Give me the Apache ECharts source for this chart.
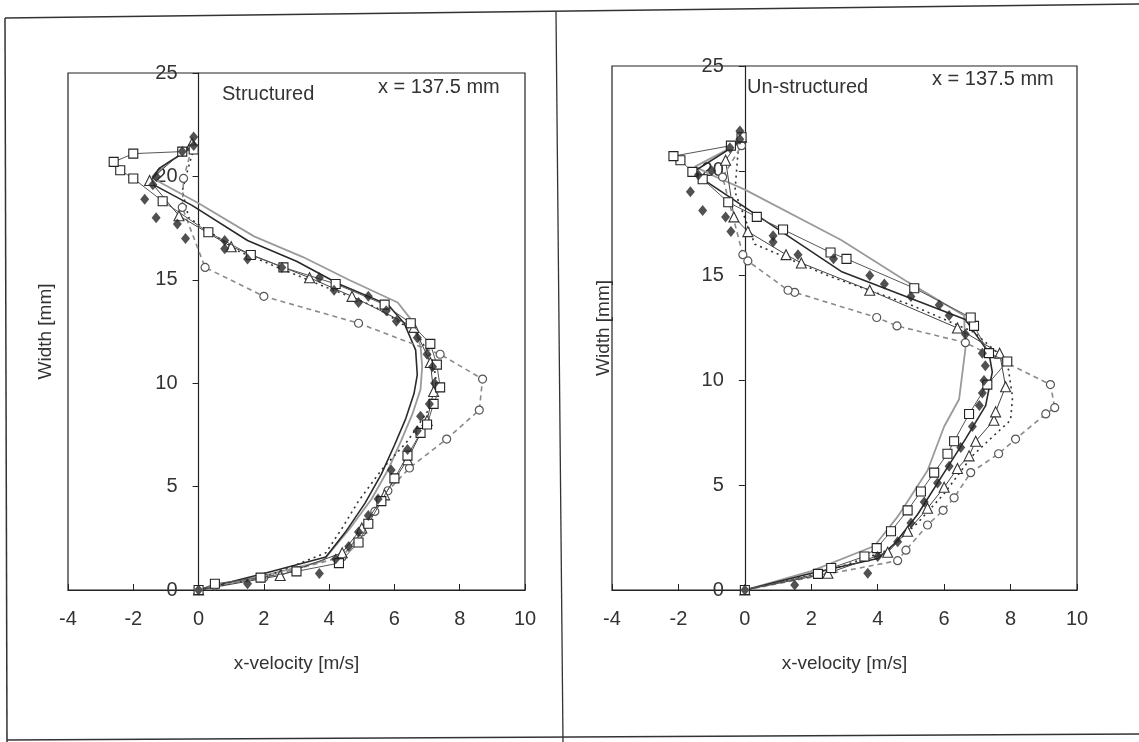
<!DOCTYPE html>
<html>
<head>
<meta charset="utf-8">
<script src="https://cdn.jsdelivr.net/npm/echarts@6/dist/echarts.min.js"></script>
<style>
html,body{margin:0;padding:0;background:#fff;}
#chart{width:1139px;height:742px;}
</style>
</head>
<body>
<div id="chart"></div>
<script>
// ---------- data: [x-velocity (m/s), width (mm)] ----------
var xTicks = [-4, -2, 0, 2, 4, 6, 8, 10];
var yTicks = [0, 5, 10, 15, 20, 25];
var panelTitles = ['Structured', 'Un-structured'];
var positionLabel = 'x = 137.5 mm';
var xName = 'x-velocity [m/s]';
var yName = 'Width [mm]';

// Left panel (Structured)
var L_solidDark = [[0,0],[2.0,0.8],[3.9,1.6],[4.5,2.8],[5.1,4.2],[5.6,5.6],[6.0,7.0],[6.35,8.3],[6.6,9.5],[6.7,10.4],[6.65,11.6],[6.3,12.9],[5.8,13.8],[4.3,14.8],[3.0,15.9],[1.5,16.9],[-0.2,18.6],[-1.5,19.7],[-1.2,20.4],[-0.5,21.1],[-0.1,21.6]];
var L_solidGray = [[0,0],[2.0,0.7],[3.8,1.4],[4.6,2.9],[5.3,4.4],[5.8,5.8],[6.2,7.2],[6.55,8.5],[6.8,9.7],[6.85,10.8],[6.8,11.8],[6.5,13.1],[6.1,13.9],[4.6,15.0],[3.2,16.1],[1.7,17.1],[0,18.7],[-1.4,19.9],[-1.0,20.6],[-0.3,21.3],[-0.1,21.6]];
var L_squares = [[0,0],[0.5,0.3],[1.9,0.6],[3.0,0.9],[4.3,1.3],[4.9,2.3],[5.2,3.2],[5.6,4.3],[6.0,5.4],[6.4,6.5],[6.8,7.6],[7.0,8.0],[7.2,9.0],[7.4,9.8],[7.3,10.9],[7.1,11.9],[6.5,12.9],[5.7,13.8],[4.2,14.8],[2.6,15.6],[1.6,16.2],[0.3,17.3],[-1.1,18.8],[-2.0,19.9],[-2.4,20.3],[-2.6,20.7],[-2.0,21.1],[-0.5,21.2],[-0.15,21.3]];
var L_diamonds = [[0,0],[1.5,0.3],[3.7,0.8],[4.2,1.5],[4.6,2.1],[4.9,2.8],[5.2,3.6],[5.5,4.4],[5.9,5.8],[6.4,6.8],[6.7,7.7],[6.8,8.4],[7.07,9.0],[7.23,10.0],[7.17,10.8],[7.0,11.4],[6.7,12.2],[6.06,13.0],[5.75,13.5],[5.2,14.2],[4.9,13.9],[4.15,14.5],[3.7,15.1],[2.55,15.6],[1.5,16.0],[0.8,16.5],[0.8,16.9],[-0.4,17.0],[-0.65,17.7],[-1.3,18.0],[-1.65,18.9],[-1.4,19.6],[-1.3,20.0],[-0.5,21.2],[-0.15,21.5],[-0.15,21.9]];
var L_triangles = [[0,0],[2.5,0.7],[4.4,1.8],[5.0,3.0],[5.7,4.6],[6.4,6.3],[7.0,8.2],[7.2,9.6],[7.1,11.0],[6.6,12.7],[4.7,14.2],[3.4,15.1],[1.0,16.6],[-0.6,18.1],[-1.5,19.8],[-0.2,21.6]];
var L_circles = [[0,0],[0.5,0.2],[2.0,0.6],[4.4,1.6],[5.0,2.8],[5.4,3.8],[5.8,4.8],[6.46,5.9],[7.6,7.3],[8.6,8.7],[8.7,10.2],[7.4,11.4],[4.9,12.9],[2.0,14.2],[0.2,15.6],[-0.5,18.5],[-0.46,19.9],[-0.2,21.4]];
var L_dotted = [[0,0],[2.0,0.6],[3.9,1.8],[4.4,3.0],[4.9,4.3],[5.6,5.8],[6.4,7.2],[7.0,8.6],[7.3,9.8],[7.2,11.0],[6.7,12.4],[5.4,13.7],[3.5,14.9],[1.2,16.4],[-0.3,18.0],[-0.5,19.3],[-0.3,20.5],[-0.1,21.6]];

// Right panel (Un-structured)
var R_solidDark = [[0,0],[2.0,0.8],[4.0,1.5],[4.5,2.2],[5.2,3.6],[6.0,5.6],[6.64,7.2],[7.25,8.8],[7.45,10.4],[7.35,11.3],[6.64,12.9],[2.9,15.2],[-1.27,19.6],[-1.5,20.0],[-0.3,21.2],[-0.1,21.6]];
var R_solidGray = [[0,0],[2.0,0.9],[3.9,2.1],[4.6,3.5],[5.5,5.7],[6.0,7.8],[6.45,9.1],[6.64,11.5],[6.6,13.1],[4.9,14.7],[2.9,16.7],[0,19.1],[-1.0,19.8],[-1.5,20.2],[-0.3,21.2],[-0.1,21.6]];
var R_squares = [[0,0],[2.2,0.77],[2.6,1.05],[3.6,1.6],[3.97,2.0],[4.4,2.8],[4.9,3.8],[5.3,4.7],[5.7,5.6],[6.1,6.5],[6.3,7.1],[6.75,8.4],[7.3,9.8],[7.9,10.9],[7.35,11.3],[6.9,12.6],[6.8,13.0],[5.1,14.4],[3.06,15.8],[2.58,16.1],[1.15,17.2],[0.36,17.8],[-0.5,18.5],[-1.27,19.6],[-1.58,19.95],[-1.94,20.5],[-2.15,20.7],[-0.42,21.2],[-0.1,21.6]];
var R_diamonds = [[0,0],[1.5,0.24],[3.7,0.8],[4.0,1.6],[4.6,2.3],[5.0,3.2],[5.4,4.2],[5.8,5.1],[6.15,5.9],[6.5,6.8],[6.85,7.8],[7.06,8.8],[7.15,9.4],[7.2,10.0],[7.24,10.7],[7.15,11.3],[6.64,12.2],[6.15,13.1],[5.85,13.6],[5.0,14.0],[4.2,14.6],[3.76,15.0],[2.67,15.8],[1.6,16.0],[0.85,16.6],[0.85,16.9],[-0.42,17.1],[-0.58,17.8],[-1.27,18.1],[-1.64,19.0],[-1.4,19.8],[-1.0,20.0],[-0.45,21.1],[-0.15,21.5],[-0.15,21.9]];
var R_triangles = [[0,0],[2.5,0.8],[4.3,1.8],[4.9,2.8],[5.5,3.9],[6.0,4.9],[6.4,5.8],[6.75,6.4],[6.95,7.1],[7.5,8.1],[7.55,8.5],[7.85,9.7],[7.67,11.3],[6.4,12.5],[3.76,14.3],[1.7,15.6],[1.24,16.0],[0.09,17.1],[-0.33,17.8],[-0.58,20.5],[-0.1,21.6]];
var R_circles = [[0,0],[4.6,1.4],[4.85,1.9],[5.5,3.1],[5.97,3.8],[6.3,4.4],[6.8,5.6],[7.64,6.5],[8.15,7.2],[9.06,8.4],[9.33,8.7],[9.2,9.8],[6.64,11.8],[4.58,12.6],[3.97,13.0],[1.5,14.2],[1.3,14.3],[0.09,15.7],[-0.06,16.0],[-0.67,19.7],[-0.1,21.2]];
var R_dotted = [[0,0],[2.5,0.9],[4.3,1.9],[5.2,3.2],[6.0,4.6],[6.85,6.4],[7.45,7.3],[8.0,8.1],[8.06,9.2],[7.9,10.9],[6.9,12.3],[5.0,13.6],[2.5,15.0],[0.3,16.5],[-0.3,19.0],[-0.2,21.0]];

var panels = [
  {solidDark:L_solidDark, solidGray:L_solidGray, squares:L_squares, diamonds:L_diamonds, triangles:L_triangles, circles:L_circles, dotted:L_dotted},
  {solidDark:R_solidDark, solidGray:R_solidGray, squares:R_squares, diamonds:R_diamonds, triangles:R_triangles, circles:R_circles, dotted:R_dotted}
];

// ---------- layout ----------
var gridsPos = [
  {left:68, top:73, width:457, height:517, yNameX:45},
  {left:612, top:66, width:465, height:524, yNameX:603}
];
var FONT = '"Liberation Sans", Arial, sans-serif';
var TXT = '#333';
var LABEL_FS = 20, NAME_FS = 19, NOTE_FS = 20;
var xMin = xTicks[0], xMax = xTicks[xTicks.length - 1];

var grids = [], xAxes = [], yAxes = [], series = [];
gridsPos.forEach(function (g, i) {
  // main plotting box
  grids.push({left:g.left, top:g.top, width:g.width, height:g.height, show:true,
    borderColor:'#222', borderWidth:1.2, backgroundColor:'transparent',
    containLabel:false, outerBoundsMode:'none'});
  // axis grid whose left edge sits at x = 0 (the vertical axis line)
  var zeroX = g.left + g.width * (0 - xMin) / (xMax - xMin);
  grids.push({left:zeroX, top:g.top, width:g.left + g.width - zeroX, height:g.height, show:false,
    containLabel:false, outerBoundsMode:'none'});

  xAxes.push({type:'value', gridIndex:2*i, min:xMin, max:xMax, interval:2,
    name:xName, nameLocation:'middle', nameGap:64,
    nameTextStyle:{fontFamily:FONT, fontSize:NAME_FS, color:TXT},
    axisLine:{show:true, onZero:false, lineStyle:{color:'#222', width:1.2}},
    axisTick:{show:true, inside:true, length:6, lineStyle:{color:'#222'}},
    axisLabel:{margin:19, fontFamily:FONT, fontSize:LABEL_FS, color:TXT},
    splitLine:{show:false}});
  xAxes.push({type:'value', gridIndex:2*i+1, min:0, max:xMax, show:false});

  yAxes.push({type:'value', gridIndex:2*i, min:yTicks[0], max:yTicks[yTicks.length-1], interval:5, show:false});
  yAxes.push({type:'value', gridIndex:2*i+1, min:yTicks[0], max:yTicks[yTicks.length-1], interval:5,
    name:yName, nameLocation:'middle', nameGap:zeroX - g.yNameX - 10,
    nameTextStyle:{fontFamily:FONT, fontSize:NAME_FS, color:TXT},
    axisLine:{show:true, onZero:false, lineStyle:{color:'#222', width:1.2}},
    axisTick:{show:true, inside:false, length:6, lineStyle:{color:'#222'}},
    axisLabel:{margin:21, fontFamily:FONT, fontSize:LABEL_FS, color:TXT},
    splitLine:{show:false}});

  var p = panels[i];
  var ax = 2*i;
  series.push({type:'line', xAxisIndex:ax, yAxisIndex:ax, data:p.solidGray, showSymbol:false, symbol:'none',
    lineStyle:{color:'#9a9a9a', width:1.8}, z:2, silent:true});
  series.push({type:'line', xAxisIndex:ax, yAxisIndex:ax, data:p.solidDark, showSymbol:false, symbol:'none',
    lineStyle:{color:'#2a2a2a', width:1.6}, z:3, silent:true});
  series.push({type:'line', xAxisIndex:ax, yAxisIndex:ax, data:p.dotted, showSymbol:false, symbol:'none',
    lineStyle:{color:'#333', width:1.6, type:[2,4]}, z:3, silent:true});
  series.push({type:'line', xAxisIndex:ax, yAxisIndex:ax, data:p.circles, symbol:'circle', symbolSize:8,
    lineStyle:{color:'#8a8a8a', width:1.6, type:[5,4]},
    itemStyle:{color:'#fff', borderColor:'#555', borderWidth:1.2}, z:4, silent:true});
  series.push({type:'line', xAxisIndex:ax, yAxisIndex:ax, data:p.triangles, symbol:'triangle', symbolSize:10,
    lineStyle:{color:'#444', width:1},
    itemStyle:{color:'#fff', borderColor:'#333', borderWidth:1.1}, z:5, silent:true});
  series.push({type:'line', xAxisIndex:ax, yAxisIndex:ax, data:p.squares, symbol:'rect', symbolSize:9,
    lineStyle:{color:'#555', width:1},
    itemStyle:{color:'#fff', borderColor:'#222', borderWidth:1.1}, z:6, silent:true});
  series.push({type:'scatter', xAxisIndex:ax, yAxisIndex:ax, data:p.diamonds, symbol:'diamond', symbolSize:[9,11],
    itemStyle:{color:'#262626'}, z:7, silent:true});
});

var chart = echarts.init(document.getElementById('chart'), null, {renderer:'canvas'});
chart.setOption({
  animation:false,
  backgroundColor:'#fff',
  grid:grids, xAxis:xAxes, yAxis:yAxes, series:series,
  graphic:[
    {type:'polyline', shape:{points:[[5,18],[1139,4]]}, style:{stroke:'#333', lineWidth:1.5, fill:null}, silent:true},
    {type:'polyline', shape:{points:[[5,18],[7,742]]}, style:{stroke:'#333', lineWidth:1.5, fill:null}, silent:true},
    {type:'polyline', shape:{points:[[7,740],[1139,734]]}, style:{stroke:'#333', lineWidth:1.5, fill:null}, silent:true},
    {type:'polyline', shape:{points:[[556,12],[563,742]]}, style:{stroke:'#333', lineWidth:1.3, fill:null}, silent:true},
    {type:'text', left:222, top:84, style:{text:panelTitles[0], font:NOTE_FS + 'px ' + FONT, fill:TXT}, silent:true},
    {type:'text', left:378, top:77, style:{text:positionLabel, font:NOTE_FS + 'px ' + FONT, fill:TXT}, silent:true},
    {type:'text', left:747, top:77, style:{text:panelTitles[1], font:NOTE_FS + 'px ' + FONT, fill:TXT}, silent:true},
    {type:'text', left:932, top:69, style:{text:positionLabel, font:NOTE_FS + 'px ' + FONT, fill:TXT}, silent:true}
  ]
});
</script>
</body>
</html>
